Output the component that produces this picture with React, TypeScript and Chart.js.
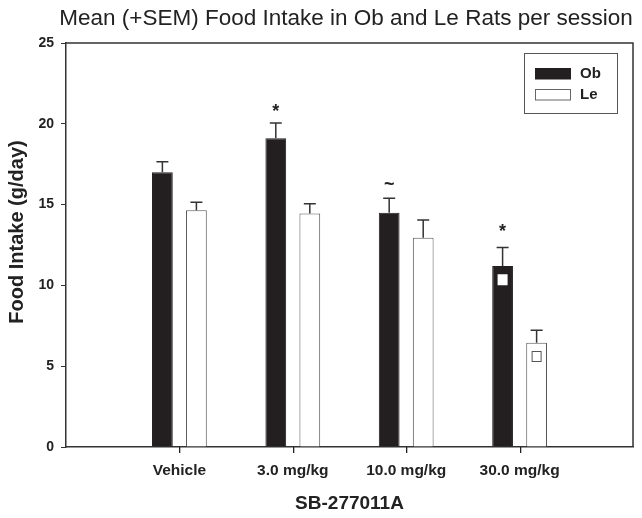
import React, { useEffect, useRef } from 'react';
import { Chart, registerables } from 'chart.js';

Chart.register(...registerables);

const categories = ['', 'Vehicle', '3.0 mg/kg', '10.0 mg/kg', '30.0 mg/kg', ''];
const obMeans = [null, 17.0, 19.1, 14.5, 11.2, null];
const obSem = [null, 0.65, 0.95, 0.9, 1.15, null];
const leMeans = [null, 14.65, 14.45, 12.95, 6.45, null];
const leSem = [null, 0.5, 0.6, 1.1, 0.78, null];
const obMarks = ['', '', '*', '~', '*', ''];
const obSquares = [null, null, null, null, 10.35, null];
const leSquares = [null, null, null, null, 5.6, null];
const yTicks = [0, 5, 10, 15, 20, 25];

const titleText = 'Mean (+SEM) Food Intake in Ob and Le Rats per session';
const xTitle = 'SB-277011A';
const yTitle = 'Food Intake (g/day)';

const FONT = "'Liberation Sans', Arial, sans-serif";
const INK = '#231f20';
const markGap = [0, 0, 11, 13, 15, 0];

const overlay = {
  id: 'overlay',
  afterDraw(chart: any) {
    const ctx = chart.ctx;
    const ys = chart.scales.y;
    const xs = chart.scales.x;
    const ca = chart.chartArea;
    ctx.save();
    // x tick marks
    ctx.fillStyle = '#222';
    categories.forEach((c, i) => {
      if (!c) return;
      const x = Math.round(xs.getPixelForValue(i));
      ctx.fillRect(x, Math.round(ca.bottom), 1.3, 6);
    });
    // error bars
    const sems = [obSem, leSem];
    const means = [obMeans, leMeans];
    [0, 1].forEach((di) => {
      const meta = chart.getDatasetMeta(di);
      meta.data.forEach((el: any, i: number) => {
        const m = means[di][i];
        const s = sems[di][i];
        if (m == null || s == null) return;
        const yTop = ys.getPixelForValue(m);
        const yCap = ys.getPixelForValue(m + s);
        ctx.strokeStyle = '#333';
        ctx.lineWidth = 1.5;
        ctx.beginPath();
        ctx.moveTo(el.x, yTop);
        ctx.lineTo(el.x, yCap);
        ctx.moveTo(el.x - 6, yCap);
        ctx.lineTo(el.x + 6, yCap);
        ctx.stroke();
        if (di === 0 && obMarks[i]) {
          ctx.fillStyle = '#222';
          ctx.font = `bold 18px ${FONT}`;
          ctx.textAlign = 'center';
          ctx.textBaseline = 'middle';
          ctx.fillText(obMarks[i], el.x, yCap - markGap[i]);
        }
      });
    });
    // squares
    const sq = [obSquares, leSquares];
    [0, 1].forEach((di) => {
      const meta = chart.getDatasetMeta(di);
      meta.data.forEach((el: any, i: number) => {
        const v = sq[di][i];
        if (v == null) return;
        const y = ys.getPixelForValue(v);
        ctx.fillStyle = '#ffffff';
        ctx.fillRect(el.x - 5, y - 5.5, 10, 11);
        if (di === 1) {
          ctx.strokeStyle = '#555';
          ctx.lineWidth = 1;
          ctx.strokeRect(el.x - 4.5, y - 5, 9, 10);
        }
      });
    });
    // frame
    ctx.strokeStyle = '#333';
    ctx.lineWidth = 1.5;
    ctx.beginPath();
    ctx.moveTo(ca.left, ca.top);
    ctx.lineTo(ca.right, ca.top);
    ctx.lineTo(ca.right, ca.bottom);
    ctx.stroke();
    // legend
    const bx = ca.right - 109;
    const by = ca.top + 10;
    ctx.strokeStyle = '#555';
    ctx.lineWidth = 1;
    ctx.strokeRect(bx + 0.5, by + 0.5, 93, 60);
    const dsets = chart.data.datasets;
    dsets.forEach((d: any, k: number) => {
      const sy = by + 15 + k * 21;
      ctx.fillStyle = d.backgroundColor;
      ctx.fillRect(bx + 11.5, sy + 0.5, 35, 10.5);
      ctx.strokeStyle = k === 0 ? INK : '#666';
      ctx.strokeRect(bx + 11.5, sy + 0.5, 35, 10.5);
      ctx.fillStyle = '#222';
      ctx.font = `bold 15px ${FONT}`;
      ctx.textAlign = 'left';
      ctx.textBaseline = 'middle';
      ctx.fillText(d.label, bx + 56, sy + 6);
    });
    // titles
    ctx.fillStyle = '#222';
    ctx.textAlign = 'center';
    ctx.textBaseline = 'middle';
    ctx.font = `22.5px ${FONT}`;
    ctx.fillText(titleText, 346, 19);
    ctx.font = `bold 19px ${FONT}`;
    ctx.fillText(xTitle, (ca.left + ca.right) / 2, 504);
    ctx.save();
    ctx.translate(17, 232);
    ctx.rotate(-Math.PI / 2);
    ctx.font = `bold 20px ${FONT}`;
    ctx.fillText(yTitle, 0, 0);
    ctx.restore();
    ctx.restore();
  },
};

export default function App() {
  const ref = useRef<HTMLCanvasElement>(null);
  useEffect(() => {
    document.body.style.margin = '0';
    const chart = new Chart(ref.current as HTMLCanvasElement, {
      type: 'bar',
      data: {
        labels: categories,
        datasets: [
          {
            label: 'Ob',
            data: obMeans as any,
            backgroundColor: INK,
            borderColor: INK,
            borderWidth: 1,
            categoryPercentage: 0.6,
            barPercentage: 0.61,
          },
          {
            label: 'Le',
            data: leMeans as any,
            backgroundColor: '#ffffff',
            borderColor: '#555',
            borderWidth: 1,
            categoryPercentage: 0.6,
            barPercentage: 0.61,
          },
        ],
      },
      options: {
        animation: false,
        responsive: false,
        maintainAspectRatio: false,
        layout: { padding: { top: 43, right: 9, left: 0, bottom: 0 } },
        plugins: {
          legend: { display: false },
          title: { display: false },
          tooltip: { enabled: false },
        },
        scales: {
          x: {
            type: 'category',
            offset: false,
            afterFit(scale: any) {
              scale.height = 71;
            },
            grid: {
              display: true,
              offset: false,
              drawOnChartArea: false,
              drawTicks: true,
              tickLength: 5,
              tickColor: 'rgba(0,0,0,0)',
            },
            border: { display: true, color: '#333', width: 1.5 },
            ticks: {
              autoSkip: false,
              maxRotation: 0,
              padding: 9,
              color: '#222',
              font: { family: FONT, size: 15.5, weight: 'bold' },
            },
          },
          y: {
            min: 0,
            max: 25,
            afterFit(scale: any) {
              scale.width = 66;
            },
            afterBuildTicks(scale: any) {
              scale.ticks = yTicks.map((v) => ({ value: v }));
            },
            grid: {
              display: true,
              drawOnChartArea: false,
              drawTicks: true,
              tickLength: 5,
              tickColor: '#333',
              tickWidth: 1,
            },
            border: { display: true, color: '#333', width: 1.5 },
            ticks: {
              padding: 7,
              color: '#222',
              font: { family: FONT, size: 14, weight: 'bold' },
            },
          },
        },
      },
      plugins: [overlay],
    });
    return () => chart.destroy();
  }, []);
  return <canvas ref={ref} width={642} height={518} style={{ display: 'block' }} />;
}
